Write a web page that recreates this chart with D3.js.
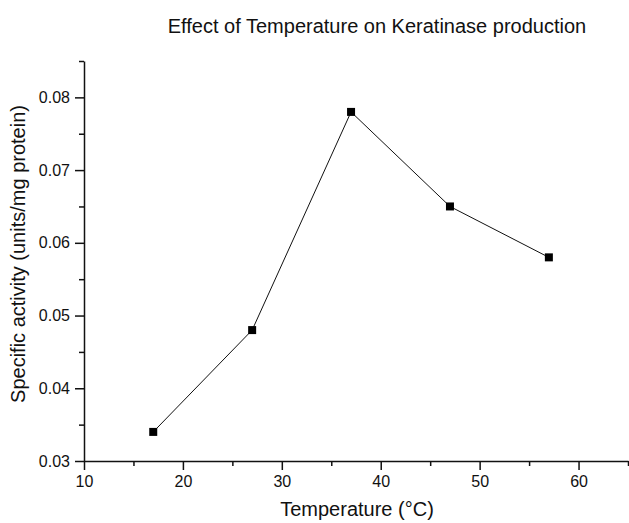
<!DOCTYPE html>
<html>
<head>
<meta charset="utf-8">
<script src="https://cdn.jsdelivr.net/npm/d3@7"></script>
<style>
  body { margin: 0; background: #fff; }
  text { font-family: "Liberation Sans", Arial, sans-serif; fill: #111; }
</style>
</head>
<body>
<svg id="chart"></svg>
<script>
const temperatures = [17, 27, 37, 47, 57]
const activity = [0.034, 0.048, 0.078, 0.065, 0.058]
const xTicks = [10, 20, 30, 40, 50, 60]
const yTicks = [0.03, 0.04, 0.05, 0.06, 0.07, 0.08]

const w = 629, h = 523
const m = { top: 61, right: 1, bottom: 62, left: 84 }

const svg = d3.select('#chart').attr('width', w).attr('height', h)

const x = d3.scaleLinear().domain([10, 65]).range([m.left, w - m.right])
const y = d3.scaleLinear().domain([0.03, 0.085]).range([h - m.bottom, m.top])

// minor ticks first
svg.append('g')
    .attr('transform', 'translate(0,' + (h - m.bottom) + ')')
    .call(d3.axisBottom(x).tickValues(d3.range(15, 66, 10)).tickSize(5).tickFormat(''))
    .call(g => g.select('.domain').remove())

svg.append('g')
    .attr('transform', 'translate(' + m.left + ',0)')
    .call(d3.axisLeft(y).tickValues([0.035, 0.045, 0.055, 0.065, 0.075, 0.085]).tickSize(5).tickFormat(''))
    .call(g => g.select('.domain').remove())

const xAxis = svg.append('g')
    .attr('transform', 'translate(0,' + (h - m.bottom) + ')')
    .call(d3.axisBottom(x).tickValues(xTicks).tickSize(9).tickPadding(6).tickSizeOuter(0))
xAxis.selectAll('text').attr('font-size', 16)

const yAxis = svg.append('g')
    .attr('transform', 'translate(' + m.left + ',0)')
    .call(d3.axisLeft(y).tickValues(yTicks).tickSize(9).tickPadding(5).tickFormat(d3.format('.2f')).tickSizeOuter(0))
yAxis.selectAll('text').attr('font-size', 16)

svg.selectAll('.domain, .tick line').attr('stroke', '#111').attr('stroke-width', 1.5)

const line = d3.line()
    .x((d, i) => x(temperatures[i]))
    .y(d => y(d))

svg.append('path')
    .datum(activity)
    .attr('d', line)
    .attr('fill', 'none')
    .attr('stroke', '#111')
    .attr('stroke-width', 1)

svg.selectAll('.dot')
    .data(activity)
    .join('rect')
    .attr('class', 'dot')
    .attr('x', (d, i) => x(temperatures[i]) - 4)
    .attr('y', d => y(d) - 4)
    .attr('width', 8)
    .attr('height', 8)
    .attr('fill', '#000')

svg.append('text')
    .attr('x', 377).attr('y', 33)
    .attr('text-anchor', 'middle')
    .attr('font-size', 20)
    .text('Effect of Temperature on Keratinase production')

svg.append('text')
    .attr('x', 357).attr('y', 516)
    .attr('text-anchor', 'middle')
    .attr('font-size', 20)
    .text('Temperature (°C)')

svg.append('text')
    .attr('transform', 'translate(25,254) rotate(-90)')
    .attr('text-anchor', 'middle')
    .attr('font-size', 20)
    .text('Specific activity (units/mg protein)')
</script>
</body>
</html>
